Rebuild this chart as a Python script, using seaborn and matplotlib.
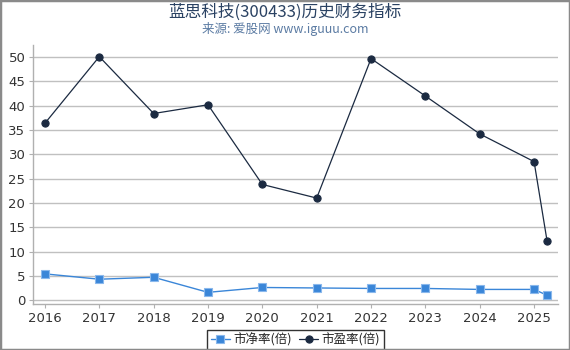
import matplotlib
matplotlib.use("Agg")
import matplotlib.pyplot as plt
import seaborn as sns
import pandas as pd
from matplotlib.patches import Rectangle

years = [2016, 2017, 2018, 2019, 2020, 2021, 2022, 2023, 2024, 2025, 2025.24]
xticks = [2016, 2017, 2018, 2019, 2020, 2021, 2022, 2023, 2024, 2025]
pb = [5.4, 4.3, 4.7, 1.6, 2.6, 2.5, 2.4, 2.4, 2.2, 2.2, 1.0]
pe = [36.4, 50.1, 38.4, 40.2, 23.8, 21.0, 49.7, 42.0, 34.2, 28.5, 12.1]
yticks = [0, 5, 10, 15, 20, 25, 30, 35, 40, 45, 50]

sns.set_theme(style="white")
plt.rcParams['font.family'] = ['Noto Sans CJK SC', 'DejaVu Sans']

fig = plt.figure(figsize=(5.7, 3.5), dpi=100)
ax = fig.add_axes([33/570, 1-304/350, (558-33)/570, (304-45)/350])

df = pd.DataFrame({"x": years, "pb": pb, "pe": pe})
sns.lineplot(data=df, x="x", y="pb", ax=ax, color="#3a86d8", lw=1.0,
             marker="s", markersize=5.5, markeredgecolor="#8ab8ec", markeredgewidth=0.8,
             label="市净率(倍)")
sns.lineplot(data=df, x="x", y="pe", ax=ax, color="#1b2a41", lw=0.9,
             marker="o", markersize=5.2, markeredgecolor="#1b2a41",
             label="市盈率(倍)")

ax.set_xlim(2015.78, 2025.44)
ax.set_ylim(-0.8, 52.5)
ax.set_xticks(xticks)
ax.set_xticklabels([str(t) for t in xticks])
ax.set_yticks(yticks)
ax.set_yticklabels([str(t) for t in yticks])
for lab in ax.get_xticklabels() + ax.get_yticklabels():
    lab.set_fontfamily("DejaVu Sans")
ax.yaxis.grid(True, color="#c0c0c0", lw=1)
ax.xaxis.grid(False)
ax.set_xlabel("")
ax.set_ylabel("")
for s in ["top", "right"]:
    ax.spines[s].set_visible(False)
for s in ["left", "bottom"]:
    ax.spines[s].set_color("#b0b0b0")
    ax.spines[s].set_linewidth(1)
ax.tick_params(axis="both", labelsize=9.5, colors="#333333", length=3, width=0.8,
               bottom=True, left=True, pad=2.5)
ax.tick_params(axis="x", color="#b0b0b0")
ax.tick_params(axis="y", color="#b0b0b0")

leg = ax.legend(loc="upper center", bbox_to_anchor=(0.5, -0.075), ncol=2,
                frameon=True, fontsize=9, handlelength=1.5, handletextpad=0.3,
                columnspacing=0.6, borderpad=0.3, fancybox=False)
leg.get_frame().set_edgecolor("black")
leg.get_frame().set_linewidth(1)

fig.text(0.5, 1-12/350, "蓝思科技(300433)历史财务指标", ha="center", va="center",
         fontsize=12, color="#2a4263")
fig.text(0.5, 1-29/350, "来源: 爱股网 www.iguuu.com", ha="center", va="center",
         fontsize=9, color="#5b7ba3")

fig.patches.append(Rectangle((0, 0), 1, 1, transform=fig.transFigure, fill=False,
                             edgecolor="#8a8a8a", lw=2.5))

fig.savefig("out.png", dpi=100)
